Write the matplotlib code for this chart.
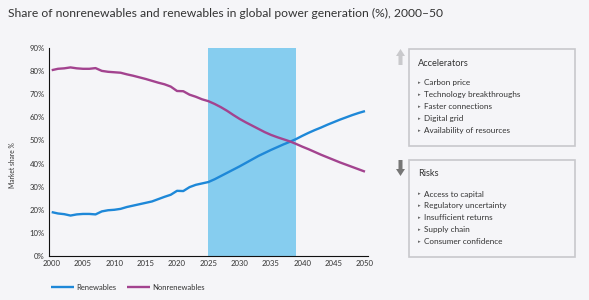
import numpy as np
import matplotlib
matplotlib.use('Agg')
import matplotlib.pyplot as plt
from matplotlib.patches import Rectangle, Polygon

# --- данные ---
years = list(range(2000, 2051))
renewables = [19.0, 18.4, 18.1, 17.5, 18.0, 18.2, 18.2, 18.0, 19.3, 19.8,
              20.0, 20.4, 21.2, 21.8, 22.4, 23.0, 23.6, 24.6, 25.6, 26.5,
              28.2, 28.1, 29.8, 30.8, 31.4, 32.0, 33.2, 34.6, 36.0, 37.4,
              38.8, 40.3, 41.8, 43.3, 44.6, 45.9, 47.1, 48.3, 49.4, 50.6,
              52.0, 53.3, 54.5, 55.6, 56.8, 57.9, 59.0, 60.0, 61.0, 61.9,
              62.7]
nonrenewables = [80.4, 81.0, 81.2, 81.6, 81.2, 81.0, 81.0, 81.3, 80.1, 79.7,
                 79.5, 79.3, 78.6, 78.0, 77.3, 76.6, 75.8, 75.0, 74.3, 73.3,
                 71.4, 71.3, 69.8, 68.9, 67.8, 67.0, 65.8, 64.4, 62.8, 61.0,
                 59.3, 57.8, 56.4, 55.0, 53.6, 52.4, 51.4, 50.5, 49.6, 48.5,
                 47.3, 46.2, 45.0, 43.8, 42.7, 41.6, 40.5, 39.5, 38.5, 37.5,
                 36.5]
band_years = (2025, 2039)
x_ticks = list(range(2000, 2051, 5))
y_ticks = list(range(0, 91, 10))

accelerators = ['Carbon price', 'Technology breakthroughs', 'Faster connections',
                'Digital grid', 'Availability of resources']
risks = ['Access to capital', 'Regulatory uncertainty', 'Insufficient returns',
         'Supply chain', 'Consumer confidence']

BG = '#f5f5f8'
BLUE = '#1e88d8'
PURPLE = '#a3438f'
BAND = '#86cdef'
TXT = '#333333'
BOX = '#c8c8cc'

plt.rcParams['font.family'] = ['Lato', 'DejaVu Sans']

W, H = 589, 300
fig = plt.figure(figsize=(W / 100, H / 100), dpi=100, facecolor=BG)

def fx(px): return px / W
def fy(py): return 1 - py / H

# основная ось
ax = fig.add_axes([fx(49), fy(256), fx(368) - fx(49), fy(48) - fy(256)])
ax.set_facecolor(BG)
ax.axvspan(band_years[0], band_years[1], color=BAND, lw=0, zorder=1)
ax.plot(years, renewables, color=BLUE, lw=1.7, zorder=3, label='Renewables',
        solid_capstyle='butt')
ax.plot(years, nonrenewables, color=PURPLE, lw=1.7, zorder=3, label='Nonrenewables',
        solid_capstyle='butt')
ax.set_xlim(1999.57, 2050.48)
ax.set_ylim(0, 90)
ax.set_xticks(x_ticks)
ax.set_yticks(y_ticks)
ax.set_yticklabels([f'{v}%' for v in y_ticks])
ax.tick_params(length=0, labelsize=5.6, colors=TXT, pad=3)
for s in ['top', 'right']:
    ax.spines[s].set_visible(False)
for s in ['left', 'bottom']:
    ax.spines[s].set_linewidth(0.8)
    ax.spines[s].set_color('#111111')
    ax.spines[s].set_zorder(4)

fig.text(fx(13), fy(165), 'Market share %', rotation=90, fontsize=4.8,
         color=TXT, ha='center', va='center')

fig.text(fx(8), fy(13), 'Share of nonrenewables and renewables in global power generation (%), 2000\u201350',
         fontsize=8.7, color=TXT, ha='left', va='center')

leg = ax.legend(loc='upper left', bbox_to_anchor=(fx(44), fy(277)),
                bbox_transform=fig.transFigure, ncol=2, frameon=False,
                fontsize=5.5, handlelength=3.0, handletextpad=0.3,
                columnspacing=1.4, labelcolor=TXT)

# правые блоки
def panel(top, bottom, title, items, up):
    fig.patches.append(Rectangle((fx(409), fy(bottom)), fx(575) - fx(409),
                                 fy(top) - fy(bottom), transform=fig.transFigure,
                                 facecolor=BG, edgecolor=BOX, lw=1.2))
    fig.text(fx(418), fy(top + 14), title, fontsize=6.7, color=TXT,
             ha='left', va='center')
    for i, it in enumerate(items):
        y = top + 34 + i * 11.8
        fig.text(fx(417.5), fy(y), '\u25b8', fontsize=3.8, color='#666666',
                 ha='left', va='center', family='DejaVu Sans')
        fig.text(fx(424), fy(y), it, fontsize=5.9, color=TXT,
                 ha='left', va='center')
    # стрелка
    cx = 400.5
    if up:
        pts = [(cx - 4.5, top + 7), (cx, top), (cx + 4.5, top + 7),
               (cx + 2, top + 7), (cx + 2, top + 16), (cx - 2, top + 16),
               (cx - 2, top + 7)]
        col = '#c9c9cc'
    else:
        pts = [(cx - 4.5, top + 9), (cx, top + 16), (cx + 4.5, top + 9),
               (cx + 2, top + 9), (cx + 2, top), (cx - 2, top),
               (cx - 2, top + 9)]
        col = '#767676'
    fig.patches.append(Polygon([(fx(a), fy(b)) for a, b in pts], closed=True,
                               transform=fig.transFigure, facecolor=col,
                               edgecolor='none'))

panel(49, 146, 'Accelerators', accelerators, True)
panel(160, 257, 'Risks', risks, False)

fig.savefig('out.png', dpi=100, facecolor=BG)
